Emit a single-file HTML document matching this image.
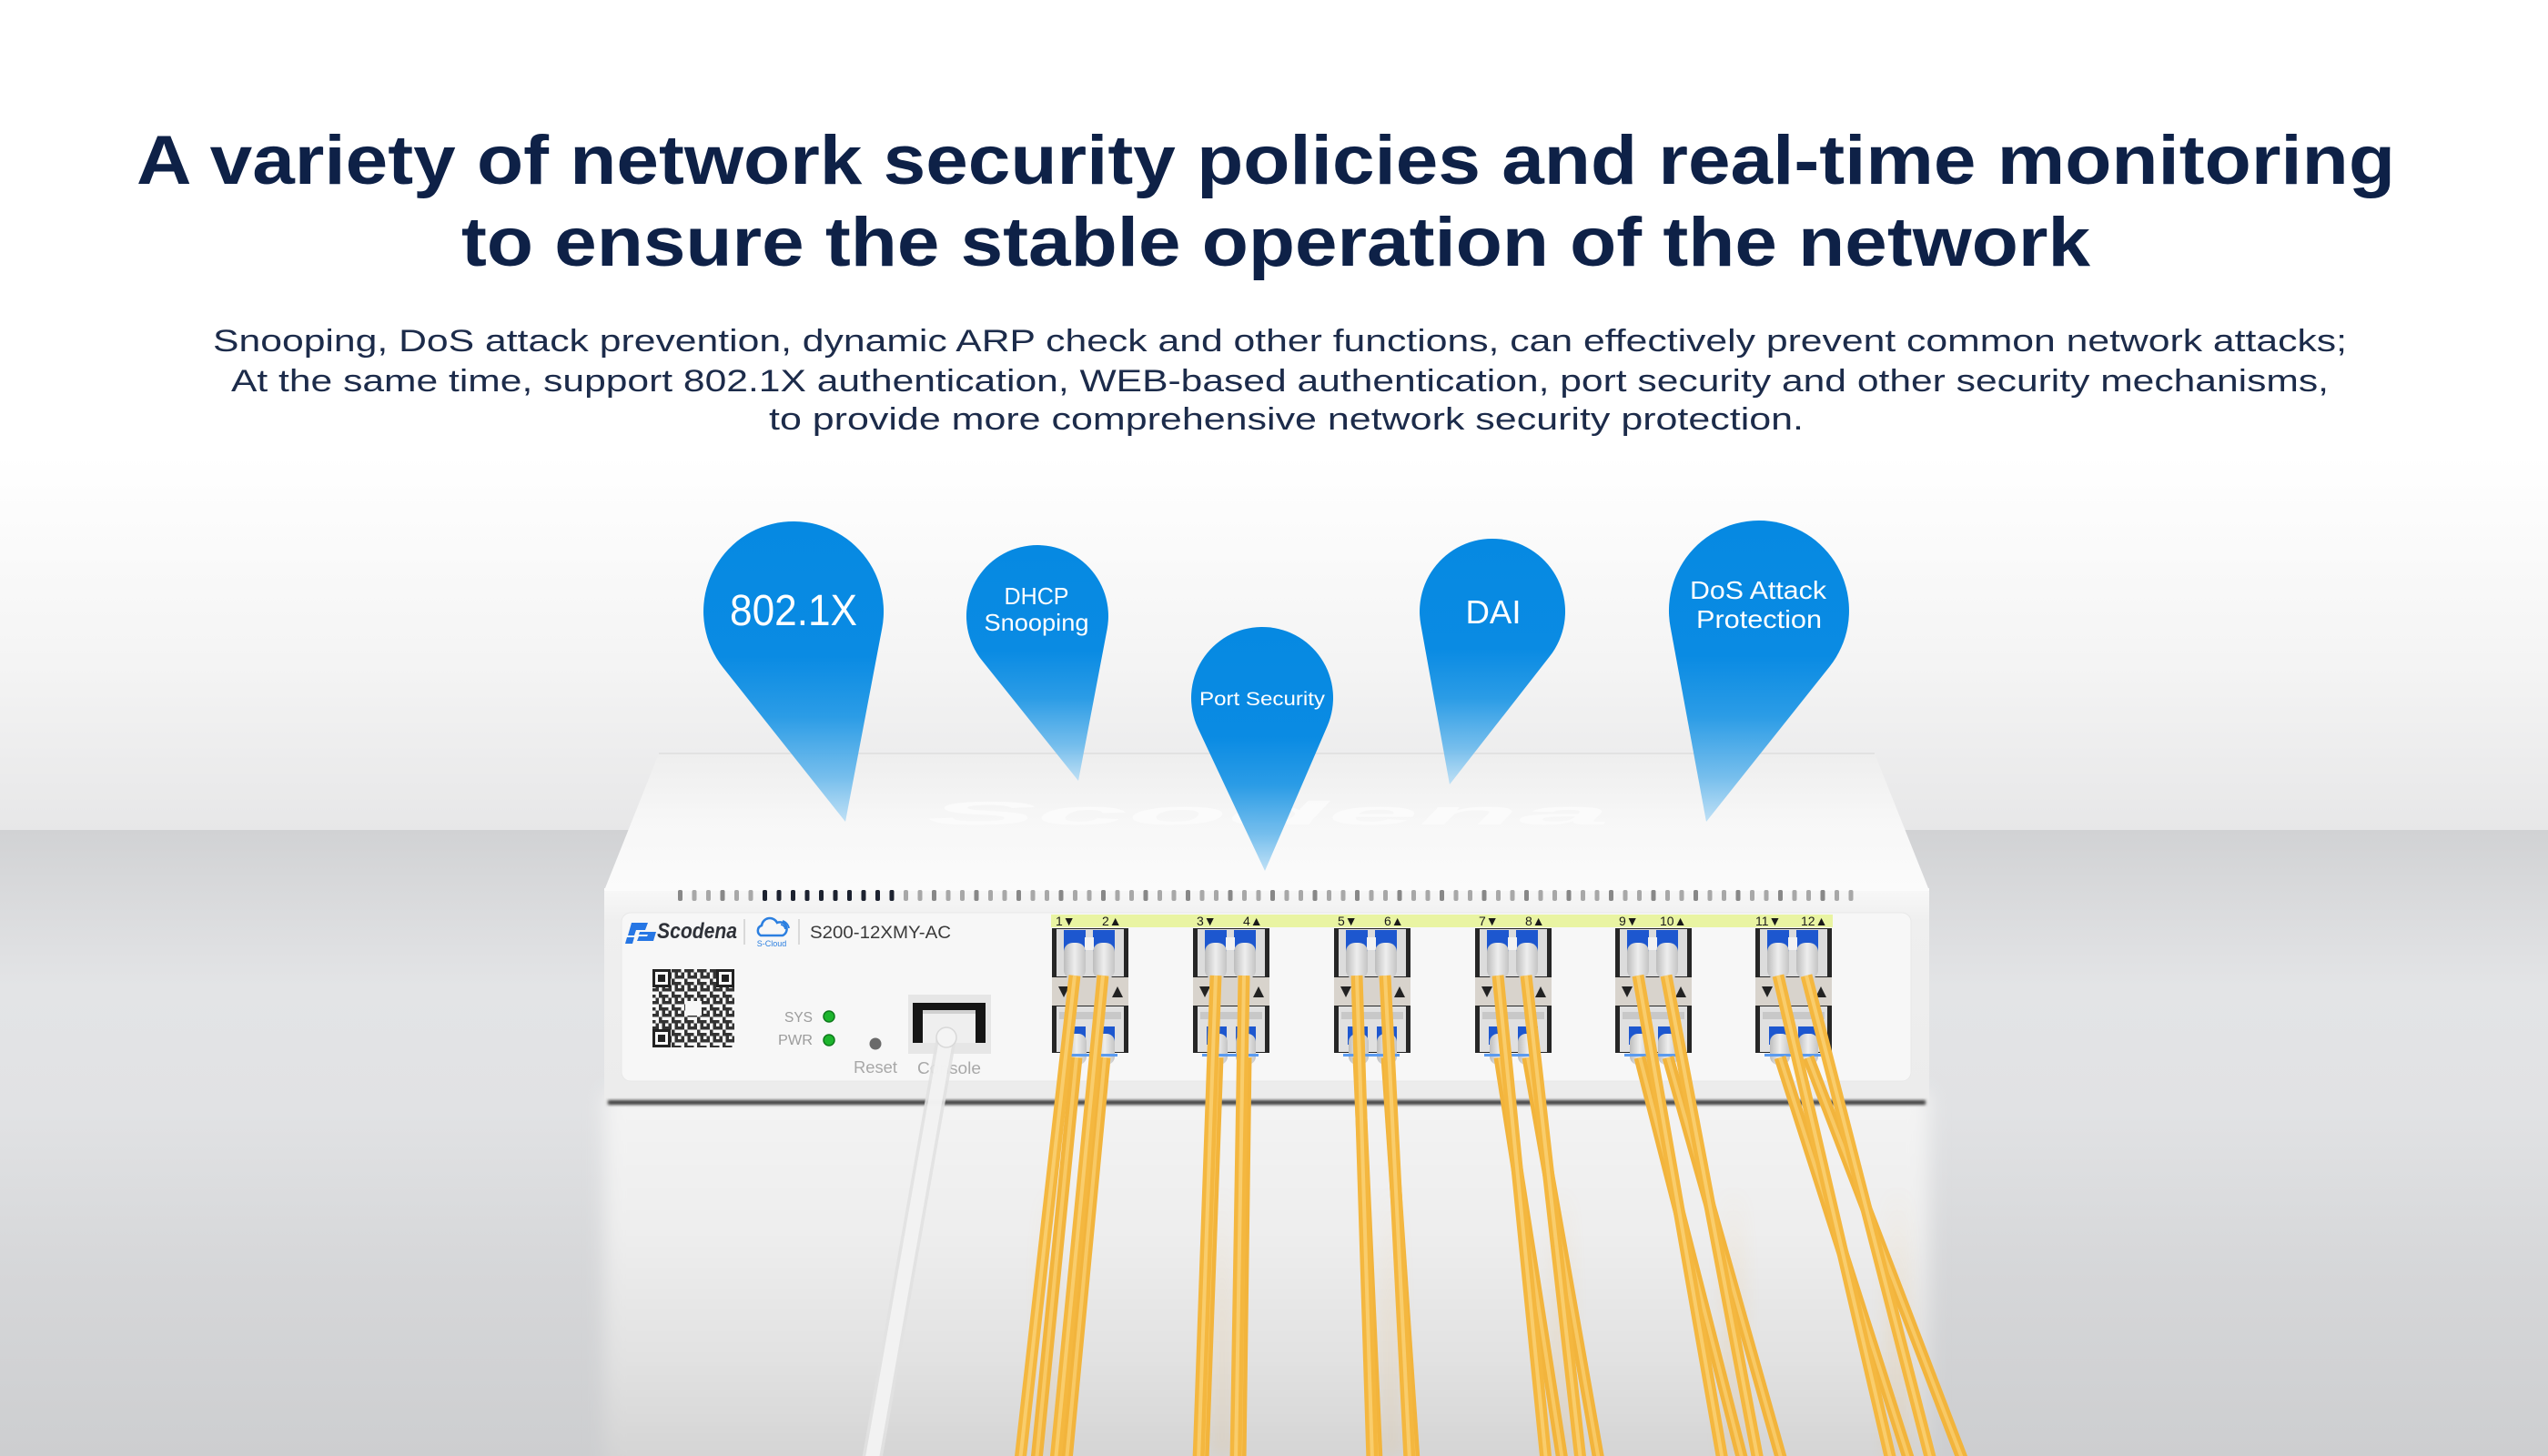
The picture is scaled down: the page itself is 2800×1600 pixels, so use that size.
<!DOCTYPE html>
<html><head><meta charset="utf-8"><style>
html,body{margin:0;padding:0;width:2800px;height:1600px;overflow:hidden;background:#fff}
svg{display:block}
text{font-family:"Liberation Sans","DejaVu Sans",sans-serif}
</style></head><body>
<svg width="2800" height="1600" viewBox="0 0 2800 1600" xmlns="http://www.w3.org/2000/svg">
<defs>
<linearGradient id="wall" x1="0" y1="0" x2="0" y2="1">
<stop offset="0" stop-color="#ffffff"/><stop offset="0.55" stop-color="#ffffff"/><stop offset="0.8" stop-color="#f4f4f4"/><stop offset="1" stop-color="#e7e7e8"/></linearGradient>
<linearGradient id="floor" x1="0" y1="0" x2="0" y2="1">
<stop offset="0" stop-color="#d1d2d4"/><stop offset="0.08" stop-color="#d7d8da"/><stop offset="0.25" stop-color="#e3e4e6"/><stop offset="0.45" stop-color="#e1e2e4"/><stop offset="0.7" stop-color="#d6d7d9"/><stop offset="1" stop-color="#cdced0"/></linearGradient>
<linearGradient id="refl" x1="0" y1="0" x2="0" y2="1">
<stop offset="0" stop-color="#f4f4f4"/><stop offset="0.35" stop-color="#eeeeee"/><stop offset="0.7" stop-color="#e1e1e1"/><stop offset="1" stop-color="#d1d1d1"/></linearGradient>
<linearGradient id="orf" x1="0" y1="0" x2="0" y2="1">
<stop offset="0" stop-color="#f2a93a" stop-opacity="0"/><stop offset="0.5" stop-color="#f2a93a" stop-opacity="1"/><stop offset="1" stop-color="#f2a93a" stop-opacity="1"/></linearGradient>
<linearGradient id="topS" x1="0" y1="0" x2="0" y2="1">
<stop offset="0" stop-color="#eeeeee"/><stop offset="0.5" stop-color="#f7f7f7"/><stop offset="1" stop-color="#fbfbfb"/></linearGradient>
<linearGradient id="face" x1="0" y1="0" x2="0" y2="1">
<stop offset="0" stop-color="#f8f8f8"/><stop offset="0.15" stop-color="#efefef"/><stop offset="1" stop-color="#ececec"/></linearGradient>
<linearGradient id="pg" x1="0" y1="0" x2="0" y2="1">
<stop offset="0" stop-color="#0689e2"/><stop offset="0.45" stop-color="#0a8be3"/><stop offset="0.65" stop-color="#2b9ce6"/><stop offset="0.85" stop-color="#6ab9ec" stop-opacity="0.92"/><stop offset="1" stop-color="#b5dcf5" stop-opacity="0.85"/></linearGradient>
<linearGradient id="boot" x1="0" y1="0" x2="1" y2="0">
<stop offset="0" stop-color="#bdbdbd"/><stop offset="0.5" stop-color="#eeeeee"/><stop offset="1" stop-color="#c4c4c4"/></linearGradient>
<filter id="blur8" x="-10%" y="-10%" width="120%" height="120%"><feGaussianBlur stdDeviation="10"/></filter>
<filter id="blur2" x="-10%" y="-50%" width="120%" height="200%"><feGaussianBlur stdDeviation="1.5"/></filter>
<filter id="blur14" x="-50%" y="-10%" width="200%" height="120%"><feGaussianBlur stdDeviation="8"/></filter>
<pattern id="vent" x="745" y="978" width="15.5" height="12" patternUnits="userSpaceOnUse"><rect x="0" y="0" width="5" height="12" rx="2" fill="#a8a8a8"/></pattern>
<pattern id="ventd" x="745" y="978" width="15.5" height="12" patternUnits="userSpaceOnUse"><rect x="0" y="0" width="5" height="12" rx="2" fill="#1c2230"/></pattern>
<pattern id="ventm" x="745" y="978" width="46.5" height="12" patternUnits="userSpaceOnUse"><rect x="0" y="0" width="5" height="12" rx="2" fill="#7a7a7a"/></pattern>
<pattern id="qr" x="717" y="1065" width="14" height="14" patternUnits="userSpaceOnUse">
<rect x="0" y="0" width="3.5" height="3.5" fill="#333"/><rect x="7" y="0" width="7" height="3.5" fill="#333"/><rect x="3.5" y="3.5" width="3.5" height="3.5" fill="#333"/><rect x="10.5" y="3.5" width="3.5" height="7" fill="#333"/><rect x="0" y="7" width="7" height="3.5" fill="#333"/><rect x="7" y="10.5" width="3.5" height="3.5" fill="#333"/></pattern>
</defs>

<!-- background -->
<rect x="0" y="0" width="2800" height="912" fill="url(#wall)"/>
<rect x="0" y="912" width="2800" height="688" fill="url(#floor)"/>
<rect x="664" y="1200" width="1456" height="430" fill="url(#refl)" filter="url(#blur8)"/>
<!-- faint orange reflections -->
<g opacity="0.1" filter="url(#blur14)" fill="url(#orf)">
<rect x="1140" y="1300" width="26" height="300"/><rect x="1330" y="1300" width="26" height="300"/><rect x="1515" y="1300" width="26" height="300"/><rect x="1700" y="1300" width="30" height="300"/><rect x="1890" y="1300" width="30" height="300"/><rect x="2070" y="1300" width="30" height="300"/></g>

<!-- title -->
<text x="150" y="202" textLength="2482" lengthAdjust="spacingAndGlyphs" font-size="76" font-weight="bold" fill="#0e2147">A variety of network security policies and real-time monitoring</text>
<text x="507" y="292" textLength="1790" lengthAdjust="spacingAndGlyphs" font-size="76" font-weight="bold" fill="#0e2147">to ensure the stable operation of the network</text>
<text x="234" y="386" textLength="2345" lengthAdjust="spacingAndGlyphs" font-size="34" fill="#1c2b4a">Snooping, DoS attack prevention, dynamic ARP check and other functions, can effectively prevent common network attacks;</text>
<text x="254" y="430" textLength="2305" lengthAdjust="spacingAndGlyphs" font-size="34" fill="#1c2b4a">At the same time, support 802.1X authentication, WEB-based authentication, port security and other security mechanisms,</text>
<text x="845" y="472" textLength="1137" lengthAdjust="spacingAndGlyphs" font-size="34" fill="#1c2b4a">to provide more comprehensive network security protection.</text>

<!-- switch top surface -->
<polygon points="724,828 2060,828 2119,976 665,976" fill="url(#topS)"/>
<line x1="724" y1="828" x2="2060" y2="828" stroke="#e2e2e2" stroke-width="2"/>
<text x="1019" y="906" textLength="750" lengthAdjust="spacingAndGlyphs" font-size="36" font-weight="bold" font-style="italic" fill="#ffffff" opacity="0.6">Scodena</text>
<!-- front face -->
<rect x="664" y="976" width="1456" height="238" rx="4" fill="url(#face)"/>
<rect x="664" y="976" width="1456" height="3" fill="#fbfbfb"/>
<rect x="745" y="978" width="1300" height="12" fill="url(#vent)"/>
<rect x="745" y="978" width="1300" height="12" fill="url(#ventm)" opacity="0.7"/>
<rect x="838" y="978" width="155" height="12" fill="url(#ventd)"/>
<rect x="683" y="1003" width="1417" height="185" rx="10" fill="#f7f7f7" stroke="#e8e8e8" stroke-width="1"/>
<rect x="668" y="1209" width="1448" height="5" fill="#3a3a3a" filter="url(#blur2)"/>

<!-- logo -->
<polygon points="694,1014 712,1014 709,1022 699,1022 697,1028 690,1028" fill="#2676e4"/>
<polygon points="703,1024 721,1024 718,1034 700,1034 702,1029 711,1029 712,1027 702,1027" fill="#2676e4"/>
<polygon points="689,1030 697,1030 695,1037 687,1037" fill="#2676e4"/>
<text x="722" y="1031" textLength="88" lengthAdjust="spacingAndGlyphs" font-size="24" font-weight="bold" font-style="italic" fill="#2e3138">Scodena</text>
<line x1="818" y1="1010" x2="818" y2="1038" stroke="#cfcfcf" stroke-width="1.5"/>
<path d="M836 1028 a6 6 0 0 1 1 -11 a9 9 0 0 1 17 -3 a7 7 0 0 1 6 14 z" fill="none" stroke="#2b7fe0" stroke-width="2.5"/>
<path d="M858 1016 a6 6 0 0 1 5 5 M860 1012 a10 10 0 0 1 7 8" fill="none" stroke="#2b7fe0" stroke-width="1.8"/>
<text x="848" y="1040" text-anchor="middle" font-size="9" fill="#2b7fe0">S-Cloud</text>
<line x1="878" y1="1010" x2="878" y2="1038" stroke="#cfcfcf" stroke-width="1.5"/>
<text x="890" y="1031" textLength="155" lengthAdjust="spacingAndGlyphs" font-size="19" fill="#3a3a3a">S200-12XMY-AC</text>

<!-- QR -->
<rect x="717" y="1065" width="90" height="86" fill="#f7f7f7"/>
<rect x="717" y="1065" width="90" height="86" fill="url(#qr)"/>
<g fill="#222"><rect x="717" y="1065" width="20" height="20"/><rect x="787" y="1065" width="20" height="20"/><rect x="717" y="1131" width="20" height="20"/></g>
<g fill="#f7f7f7"><rect x="720" y="1068" width="14" height="14"/><rect x="790" y="1068" width="14" height="14"/><rect x="720" y="1134" width="14" height="14"/></g>
<g fill="#222"><rect x="723" y="1071" width="8" height="8"/><rect x="793" y="1071" width="8" height="8"/><rect x="723" y="1137" width="8" height="8"/></g>
<rect x="753" y="1100" width="18" height="16" fill="#f7f7f7"/>

<!-- LEDs -->
<text x="862" y="1123" textLength="31" lengthAdjust="spacingAndGlyphs" font-size="16" fill="#9c9c9c">SYS</text>
<text x="855" y="1148" textLength="38" lengthAdjust="spacingAndGlyphs" font-size="16" fill="#9c9c9c">PWR</text>
<circle cx="911" cy="1117" r="6" fill="#1db52d" stroke="#0f7a1c" stroke-width="1.5"/>
<circle cx="911" cy="1143" r="6" fill="#1db52d" stroke="#0f7a1c" stroke-width="1.5"/>
<circle cx="962" cy="1147" r="6.5" fill="#6a6a6a"/>
<text x="938" y="1179" textLength="48" lengthAdjust="spacingAndGlyphs" font-size="18" fill="#a8a8a8">Reset</text>
<!-- console -->
<rect x="998" y="1093" width="91" height="65" fill="#e6e6e6"/>
<rect x="1003" y="1102" width="80" height="44" fill="#151515"/>
<rect x="1014" y="1110" width="58" height="36" fill="#efefef"/>
<rect x="1014" y="1110" width="58" height="4" fill="#d0d0d0"/>
<text x="1008" y="1180" textLength="70" lengthAdjust="spacingAndGlyphs" font-size="18" fill="#a8a8a8">Console</text>
<line x1="1040" y1="1140" x2="958" y2="1605" stroke="#e2e2e2" stroke-width="22" opacity="0.9"/>
<line x1="1040" y1="1140" x2="958" y2="1605" stroke="#f4f4f4" stroke-width="15" opacity="0.9"/>
<circle cx="1040" cy="1140" r="11" fill="#f4f4f4" stroke="#d8d8d8" stroke-width="1.5"/>

<!-- yellow strip -->
<rect x="1155" y="1005" width="859" height="14" fill="#e9f4a2"/>
<g font-size="14" fill="#1a1a1a">
<text x="1160" y="1017">1▼</text><text x="1211" y="1017">2▲</text>
<text x="1315" y="1017">3▼</text><text x="1366" y="1017">4▲</text>
<text x="1470" y="1017">5▼</text><text x="1521" y="1017">6▲</text>
<text x="1625" y="1017">7▼</text><text x="1676" y="1017">8▲</text>
<text x="1779" y="1017">9▼</text><text x="1824" y="1017">10▲</text>
<text x="1929" y="1017">11▼</text><text x="1979" y="1017">12▲</text>
</g>

<!-- cages -->
<g id="cage1" transform="translate(1156,0)">
<rect x="0" y="1020" width="84" height="54" fill="#262626"/>
<rect x="5" y="1021" width="74" height="52" fill="#dcdcdc"/>
<rect x="13" y="1022" width="24" height="30" fill="#1d57cf"/>
<rect x="45" y="1022" width="24" height="30" fill="#1d57cf"/>
<rect x="36" y="1030" width="10" height="14" fill="#f2f2f2"/>
<rect x="13" y="1036" width="24" height="40" rx="10" fill="url(#boot)"/>
<rect x="45" y="1036" width="24" height="40" rx="10" fill="url(#boot)"/>
<rect x="0" y="1074" width="84" height="31" fill="#d8d3cc"/>
<polygon points="7,1084 19,1084 13,1096" fill="#222"/>
<polygon points="66,1096 78,1096 72,1084" fill="#222"/>
<rect x="0" y="1105" width="84" height="52" fill="#262626"/>
<rect x="5" y="1106" width="74" height="50" fill="#e0e0e0"/>
<rect x="8" y="1112" width="68" height="8" fill="#c8c8c8"/>
<rect x="15" y="1128" width="22" height="20" fill="#1d57cf"/>
<rect x="47" y="1128" width="22" height="20" fill="#1d57cf"/>
<rect x="16" y="1136" width="22" height="34" rx="9" fill="url(#boot)"/>
<rect x="47" y="1136" width="22" height="34" rx="9" fill="url(#boot)"/>
<rect x="10" y="1158" width="62" height="3" fill="#5b9bef"/>
</g>
<use href="#cage1" transform="translate(155,0)"/>
<use href="#cage1" transform="translate(310,0)"/>
<use href="#cage1" transform="translate(465,0)"/>
<use href="#cage1" transform="translate(619,0)"/>
<use href="#cage1" transform="translate(773,0)"/>

<!-- cables lower -->
<g stroke="#f2b43c" stroke-width="13">
<line x1="1183" y1="1162" x2="1139" y2="1605"/><line x1="1214" y1="1162" x2="1172" y2="1605"/>
<line x1="1338" y1="1162" x2="1322" y2="1605"/><line x1="1369" y1="1162" x2="1363" y2="1605"/>
<line x1="1493" y1="1162" x2="1513" y2="1605"/><line x1="1524" y1="1162" x2="1554" y2="1605"/>
<line x1="1648" y1="1162" x2="1717" y2="1605"/><line x1="1679" y1="1162" x2="1757" y2="1605"/>
<line x1="1802" y1="1162" x2="1915" y2="1605"/><line x1="1833" y1="1162" x2="1958" y2="1605"/>
<line x1="1956" y1="1162" x2="2098" y2="1605"/><line x1="1987" y1="1162" x2="2157" y2="1605"/>
</g>
<g stroke="#f8c965" stroke-width="4">
<line x1="1183" y1="1162" x2="1139" y2="1605"/><line x1="1214" y1="1162" x2="1172" y2="1605"/>
<line x1="1338" y1="1162" x2="1322" y2="1605"/><line x1="1369" y1="1162" x2="1363" y2="1605"/>
<line x1="1493" y1="1162" x2="1513" y2="1605"/><line x1="1524" y1="1162" x2="1554" y2="1605"/>
<line x1="1648" y1="1162" x2="1717" y2="1605"/><line x1="1679" y1="1162" x2="1757" y2="1605"/>
<line x1="1802" y1="1162" x2="1915" y2="1605"/><line x1="1833" y1="1162" x2="1958" y2="1605"/>
<line x1="1956" y1="1162" x2="2098" y2="1605"/><line x1="1987" y1="1162" x2="2157" y2="1605"/>
</g>
<!-- cables upper -->
<g stroke="#f4b73f" stroke-width="13">
<line x1="1181" y1="1072" x2="1121" y2="1605"/><line x1="1212" y1="1072" x2="1160" y2="1605"/>
<line x1="1336" y1="1072" x2="1317" y2="1605"/><line x1="1367" y1="1072" x2="1358" y2="1605"/>
<line x1="1491" y1="1072" x2="1508" y2="1605"/><line x1="1522" y1="1072" x2="1549" y2="1605"/>
<line x1="1646" y1="1072" x2="1699" y2="1605"/><line x1="1677" y1="1072" x2="1737" y2="1605"/>
<line x1="1800" y1="1072" x2="1893" y2="1605"/><line x1="1831" y1="1072" x2="1932" y2="1605"/>
<line x1="1954" y1="1072" x2="2078" y2="1605"/><line x1="1985" y1="1072" x2="2122" y2="1605"/>
</g>
<g stroke="#f9cd6c" stroke-width="4">
<line x1="1181" y1="1072" x2="1121" y2="1605"/><line x1="1212" y1="1072" x2="1160" y2="1605"/>
<line x1="1336" y1="1072" x2="1317" y2="1605"/><line x1="1367" y1="1072" x2="1358" y2="1605"/>
<line x1="1491" y1="1072" x2="1508" y2="1605"/><line x1="1522" y1="1072" x2="1549" y2="1605"/>
<line x1="1646" y1="1072" x2="1699" y2="1605"/><line x1="1677" y1="1072" x2="1737" y2="1605"/>
<line x1="1800" y1="1072" x2="1893" y2="1605"/><line x1="1831" y1="1072" x2="1932" y2="1605"/>
<line x1="1954" y1="1072" x2="2078" y2="1605"/><line x1="1985" y1="1072" x2="2122" y2="1605"/>
</g>

<!-- pins -->
<path d="M929 903 L794.5 733.5 A99 99 0 1 1 969.3 690.4 Z" fill="url(#pg)"/>
<path d="M1185 858 L1079.1 725.8 A78 78 0 1 1 1216.6 691.6 Z" fill="url(#pg)"/>
<path d="M1390 957 L1316.4 800.1 A78 78 0 1 1 1458.6 797.9 Z" fill="url(#pg)"/>
<path d="M1593 862 L1561.3 686.2 A80 80 0 1 1 1703.0 721.3 Z" fill="url(#pg)"/>
<path d="M1875 903 L1835.6 688.9 A99 99 0 1 1 2010.5 732.6 Z" fill="url(#pg)"/>
<g fill="#ffffff" text-anchor="middle">
<text x="872" y="687" font-size="48" textLength="140" lengthAdjust="spacingAndGlyphs">802.1X</text>
<text x="1139" y="664" font-size="26" textLength="71" lengthAdjust="spacingAndGlyphs">DHCP</text>
<text x="1139" y="693" font-size="26" textLength="115" lengthAdjust="spacingAndGlyphs">Snooping</text>
<text x="1387" y="775" font-size="21" textLength="138" lengthAdjust="spacingAndGlyphs">Port Security</text>
<text x="1641" y="685" font-size="36" textLength="61" lengthAdjust="spacingAndGlyphs">DAI</text>
<text x="1932" y="658" font-size="28" textLength="150" lengthAdjust="spacingAndGlyphs">DoS Attack</text>
<text x="1933" y="690" font-size="28" textLength="138" lengthAdjust="spacingAndGlyphs">Protection</text>
</g>
</svg>
</body></html>
